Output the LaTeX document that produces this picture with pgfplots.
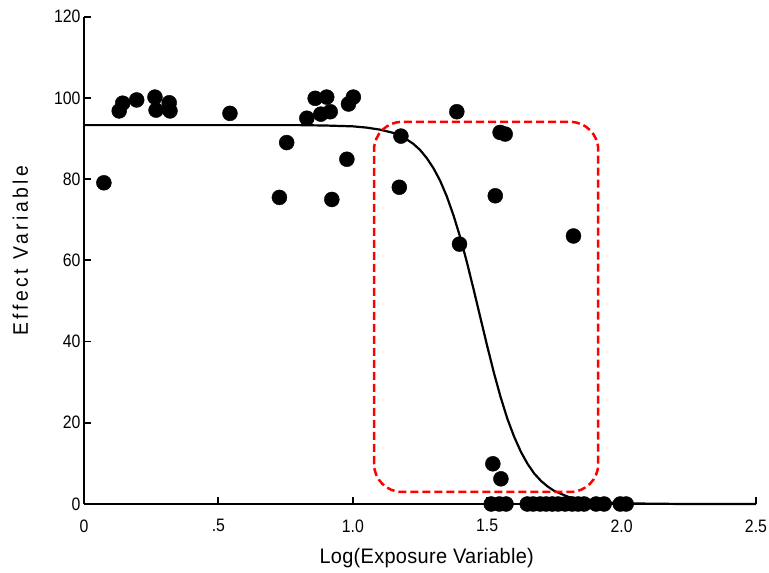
\documentclass[border=0pt]{standalone}
\usepackage{fontspec}
\setmainfont{Liberation Sans}
\newfontfamily\tickfont[FakeStretch=0.88]{Liberation Sans}
\newfontfamily\xlabfont[FakeStretch=0.95, LetterSpace=1.5]{Liberation Sans}
\newfontfamily\ylabfont[FakeStretch=0.92, LetterSpace=17]{Liberation Sans}
\usepackage{pgfplots}
\pgfplotsset{compat=1.18}
\begin{document}
\begin{tikzpicture}
\begin{axis}[
  scale only axis, width=672pt, height=487.3pt,
  xmin=0, xmax=2.5, ymin=0, ymax=120,
  axis lines=left,
  axis line style={line width=1.8pt, -},
  tick align=inside, major tick length=7pt,
  tick style={line width=1.8pt, black},
  xtick={0,0.5,1,1.5,2,2.5},
  xticklabels={0,.5,1.0,1.5,2.0,2.5},
  ytick={0,20,40,60,80,100,120},
  tick label style={font=\fontsize{18}{20}\tickfont},
  xticklabel style={yshift=-12pt},
  /pgf/number format/assume math mode=true,
  xlabel={Log(Exposure Variable)},
  ylabel={Effect Variable},
  xlabel style={font=\fontsize{21}{24}\xlabfont,
    at={(axis description cs:0.51,0)}, anchor=base, yshift=-59pt},
  ylabel style={font=\fontsize{21}{24}\ylabfont,
    at={(axis description cs:0,0.52)}, anchor=base, yshift=56pt},
  clip=false,
]
  % observations
  \addplot[only marks, mark=*, mark size=7.5pt, black] coordinates {
    (0.074,79.1) (0.131,96.8) (0.144,98.7) (0.196,99.5) (0.264,100.2)
    (0.268,97.0) (0.317,98.8) (0.320,96.8) (0.543,96.2) (0.727,75.5)
    (0.754,89.0) (0.829,95.0) (0.860,99.9) (0.881,96.0) (0.903,100.2)
    (0.916,96.6) (0.922,75.0) (0.978,84.9) (0.984,98.5) (1.002,100.2)
    (1.179,90.6) (1.173,78.0) (1.387,96.6) (1.397,64.0) (1.521,9.9)
    (1.551,6.2) (1.530,75.9) (1.548,91.5) (1.567,91.1) (1.821,66.0)
    (1.515,0) (1.545,0) (1.570,0) (1.649,0) (1.671,0) (1.697,0)
    (1.719,0) (1.742,0) (1.764,0) (1.790,0) (1.816,0) (1.838,0)
    (1.861,0) (1.905,0) (1.935,0) (1.995,0) (2.017,0)
  };
  % fitted curve
  \addplot[black, line width=2.2pt] coordinates {
    (0,93.3) (0.5,93.3) (0.8,93.3) (0.9,93.2) (1.0,93.0) (1.05,92.7)
    (1.1,92.2) (1.15,91.4) (1.2,89.8) (1.225,88.7) (1.25,87.2)
    (1.275,85.2) (1.3,82.7) (1.325,79.6) (1.35,75.7) (1.375,71.0)
    (1.4,65.6) (1.425,59.4) (1.45,52.7) (1.475,45.8) (1.5,38.9)
    (1.525,32.3) (1.55,26.3) (1.575,21.0) (1.6,16.6) (1.625,12.9)
    (1.65,9.9) (1.675,7.5) (1.7,5.7) (1.725,4.3) (1.75,3.2)
    (1.8,1.8) (1.85,1.0) (1.9,0.55) (2.0,0.16) (2.2,0.02) (2.5,0)
  };
  \draw[red, line width=2.5pt, dash pattern=on 8pt off 4pt, rounded corners=28pt]
    (axis cs:1.079,2.96) rectangle (axis cs:1.913,94.1);
\end{axis}
\pgfresetboundingbox
\useasboundingbox (-84pt,-69pt) rectangle (685pt,504pt);
\end{tikzpicture}
\end{document}
